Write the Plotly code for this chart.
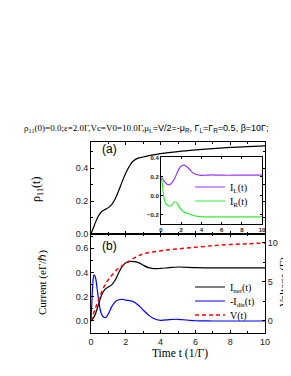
import plotly.graph_objects as go

# page body has an 8px margin; the figure fills the rest of the 291x376 window
OFF = 8
W, H = 291 - OFF, 376 - OFF

# ---------------- data ----------------
t_rho = [0, 0.2, 0.4, 0.6, 0.8, 1.0, 1.2, 1.4, 1.6, 1.8, 2.0, 2.2, 2.4, 2.7, 3.0, 3.5, 4, 5, 6, 7, 8, 9, 10]
rho11 = [0, 0.055, 0.105, 0.135, 0.148, 0.16, 0.18, 0.215, 0.265, 0.32, 0.37, 0.41, 0.44, 0.46, 0.467, 0.478, 0.487, 0.5, 0.51, 0.518, 0.525, 0.53, 0.535]

t_il = [0, 0.2, 0.4, 0.6, 0.8, 1.0, 1.3, 1.6, 1.9, 2.2, 2.5, 2.8, 3.1, 3.4, 3.8, 4.5, 5, 6, 8, 10]
I_L = [0.2, 0.17, 0.14, 0.12, 0.115, 0.125, 0.17, 0.24, 0.3, 0.32, 0.31, 0.28, 0.245, 0.225, 0.215, 0.215, 0.218, 0.215, 0.215, 0.215]

t_ir = [0, 0.1, 0.2, 0.3, 0.45, 0.6, 0.8, 1.0, 1.2, 1.4, 1.6, 1.8, 2.1, 2.4, 2.8, 3.2, 3.6, 4.5, 6, 10]
I_R = [0.2, 0.15, 0.05, -0.03, -0.08, -0.1, -0.11, -0.105, -0.08, -0.065, -0.08, -0.12, -0.16, -0.18, -0.195, -0.21, -0.22, -0.225, -0.225, -0.225]

t_net = [0, 0.2, 0.4, 0.6, 0.8, 1.0, 1.2, 1.4, 1.6, 1.8, 2.0, 2.2, 2.5, 2.8, 3.0, 3.3, 3.6, 4, 4.5, 5, 6, 7, 8, 10]
I_net = [0, 0.04, 0.12, 0.21, 0.26, 0.28, 0.30, 0.34, 0.40, 0.45, 0.48, 0.49, 0.49, 0.477, 0.46, 0.44, 0.432, 0.433, 0.44, 0.445, 0.44, 0.438, 0.437, 0.437]

t_dis = [0, 0.05, 0.1, 0.17, 0.25, 0.35, 0.45, 0.55, 0.7, 0.85, 1.0, 1.2, 1.4, 1.6, 1.8, 2.0, 2.3, 2.5, 2.8, 3.0, 3.3, 3.6, 4.0, 4.5, 5, 5.5, 6, 7, 10]
I_dis = [0, 0.15, 0.3, 0.38, 0.36, 0.27, 0.16, 0.08, 0.035, 0.03, 0.06, 0.12, 0.16, 0.175, 0.178, 0.172, 0.165, 0.155, 0.12, 0.09, 0.05, 0.02, 0.005, 0.012, 0.014, 0.008, 0.002, 0, 0]

t_v = [0, 0.25, 0.5, 0.75, 1.0, 1.25, 1.5, 1.75, 2.0, 2.5, 3, 4, 5, 6, 7, 8, 9, 10]
V = [0, 1.6, 3.1, 4.4, 5.3, 6.0, 6.6, 7.0, 7.4, 8.1, 8.6, 9.0, 9.25, 9.45, 9.65, 9.8, 9.9, 10]

ticks_a = [0.0, 0.2, 0.4]
ticks_b = [0.0, 0.2, 0.4, 0.6]
ticks_v = [0, 5, 10]
ticks_t = [0, 2, 4, 6, 8, 10]
ticks_in = [-0.2, 0.0, 0.2, 0.4]

title_txt = ('ρ<sub>11</sub>(0)=0.0;ε=2.0Γ,Vc=V0=10.0Γ,μ<sub>L</sub>'
             '<span style="font-family:Liberation Sans">=V/2=-μ<sub>R</sub>, Γ<sub>L</sub>=Γ<sub>R</sub>=0.5, β=10Γ;</span>')

# ---------------- layout helpers (window pixel -> paper fraction) ----------------
def px_x(x):
    return (x - OFF) / W

def px_y(y):
    return 1 - (y - OFF) / H

SERIF = "Liberation Serif"
SANS = "Liberation Sans"

fig = go.Figure()

fig.add_trace(go.Scatter(x=t_rho, y=rho11, mode="lines", line=dict(color="black", width=1.2, shape="spline"),
                         xaxis="x", yaxis="y", showlegend=False))
fig.add_trace(go.Scatter(x=t_il, y=I_L, mode="lines", name="I<sub>L</sub>(t)",
                         line=dict(color="#9933ff", width=1.2, shape="spline"),
                         xaxis="x4", yaxis="y4", legend="legend4"))
fig.add_trace(go.Scatter(x=t_ir, y=I_R, mode="lines", name="I<sub>R</sub>(t)",
                         line=dict(color="#33ee33", width=1.2, shape="spline"),
                         xaxis="x4", yaxis="y4", legend="legend5"))
fig.add_trace(go.Scatter(x=t_net, y=I_net, mode="lines", name="I<sub>net</sub>(t)",
                         line=dict(color="black", width=1.2, shape="spline"),
                         xaxis="x2", yaxis="y2", legend="legend"))
fig.add_trace(go.Scatter(x=t_dis, y=I_dis, mode="lines", name="-I<sub>dis</sub>(t)",
                         line=dict(color="#0000ff", width=1.2, shape="spline"),
                         xaxis="x2", yaxis="y2", legend="legend2"))
fig.add_trace(go.Scatter(x=t_v, y=V, mode="lines", name="V(t)",
                         line=dict(color="#ff0000", width=1.5, dash="4px,3px", shape="spline"),
                         xaxis="x2", yaxis="y3", legend="legend3"))

xdom = [px_x(91), px_x(265)]
axcommon = dict(showline=True, linecolor="black", linewidth=1, ticks="inside", ticklen=3,
                tickcolor="black", showgrid=False, zeroline=False, automargin=False,
                tickfont=dict(family=SANS, size=9, color="#222"))
inset_common = dict(showline=True, linecolor="black", linewidth=1, ticks="inside", ticklen=2,
                    tickcolor="black", showgrid=False, zeroline=False, automargin=False,
                    mirror="ticks", tickfont=dict(family=SANS, size=6, color="#222", weight="bold"))

def leg(ypx):
    return dict(x=px_x(190), y=px_y(ypx), xanchor="left", yanchor="middle", bgcolor="rgba(0,0,0,0)",
                font=dict(family=SERIF, size=10, color="black"), itemwidth=30)

fig.update_layout(
    width=W, height=H, autosize=False,
    margin=dict(l=0, r=0, t=0, b=0, autoexpand=False),
    paper_bgcolor="white", plot_bgcolor="rgba(0,0,0,0)",
    xaxis=dict(domain=xdom, anchor="y", range=[0, 10], tickvals=ticks_t, showticklabels=False,
               mirror="ticks", minor=dict(ticks="inside", ticklen=2, dtick=1), **axcommon),
    yaxis=dict(domain=[px_y(234), px_y(142)], anchor="x", range=[0, 0.558], tickvals=ticks_a,
               tickformat=".1f", mirror="ticks", minor=dict(ticks="inside", ticklen=2, dtick=0.1), **axcommon),
    xaxis2=dict(domain=xdom, anchor="y2", range=[0, 10], tickvals=ticks_t, mirror="ticks",
                minor=dict(ticks="inside", ticklen=2, dtick=1), **axcommon),
    yaxis2=dict(domain=[px_y(333), px_y(234)], anchor="x2", range=[-0.099, 0.717], tickvals=ticks_b,
                tickformat=".1f", minor=dict(ticks="inside", ticklen=2, dtick=0.1), **axcommon),
    yaxis3=dict(overlaying="y2", side="right", anchor="x2", range=[-1.54, 11.15], tickvals=ticks_v,
                minor=dict(ticks="inside", ticklen=2, dtick=2.5), **axcommon),
    xaxis4=dict(domain=[px_x(161), px_x(262)], anchor="y4", range=[0, 10], tickvals=ticks_t, **inset_common),
    yaxis4=dict(domain=[px_y(224), px_y(157)], anchor="x4", range=[-0.30, 0.407], tickvals=ticks_in,
                tickformat=".1f", **inset_common),
    legend=leg(287),
    legend2=leg(301),
    legend3=leg(315),
    legend4=leg(187),
    legend5=leg(201),
)

ann = [
    dict(text=title_txt, x=px_x(22), y=px_y(128), xanchor="left", yanchor="middle",
         font=dict(family=SERIF, size=9, color="black")),
    dict(text="ρ<sub>11</sub>(t)", x=px_x(37), y=px_y(190), textangle=-90,
         font=dict(family=SERIF, size=12, color="black")),
    dict(text="Current (eΓ/ℏ)", x=px_x(42), y=px_y(283), textangle=-90,
         font=dict(family=SERIF, size=11, color="black")),
    dict(text="Voltage (Γ)", x=px_x(283), y=px_y(282), textangle=-90,
         font=dict(family=SERIF, size=11, color="black")),
    dict(text="Time t (1/Γ)", x=px_x(180), y=px_y(353),
         font=dict(family=SERIF, size=11.5, color="black")),
    dict(text="(a)", x=px_x(109), y=px_y(149),
         font=dict(family=SANS, size=12, color="black")),
    dict(text="(b)", x=px_x(109), y=px_y(246),
         font=dict(family=SANS, size=12, color="black")),
]
for a in ann:
    a.setdefault("xanchor", "center")
    a.setdefault("yanchor", "middle")
    a.update(xref="paper", yref="paper", showarrow=False)
fig.update_layout(annotations=ann)

fig.write_html("out.html")
